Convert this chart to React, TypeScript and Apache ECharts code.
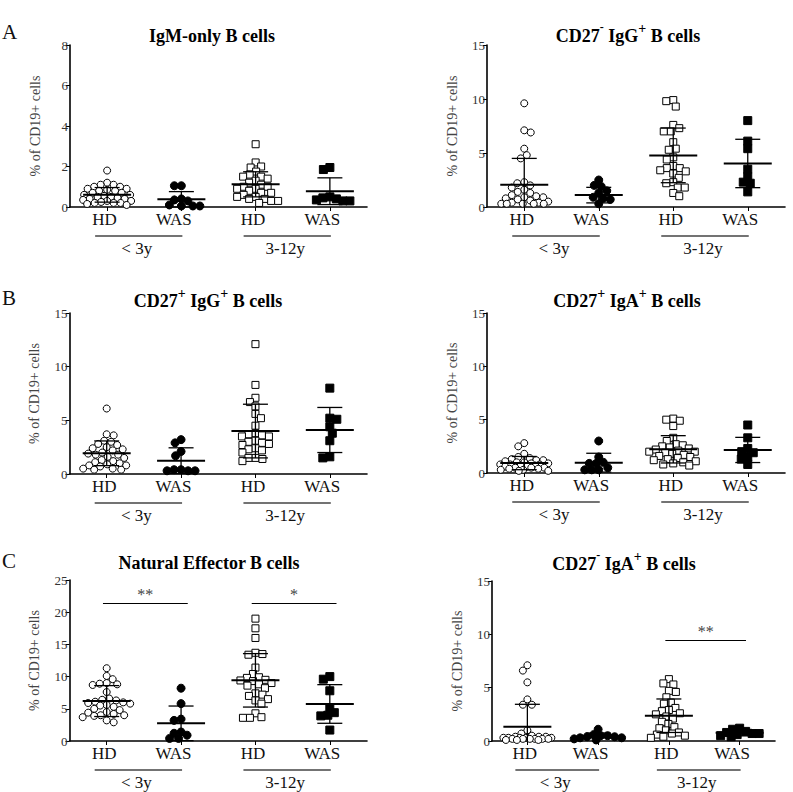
import React, { useEffect, useRef } from "react";
import * as echarts from "echarts";

const FONT = "Liberation Serif, Times New Roman, serif";

const groupLabels = ["HD", "WAS", "HD", "WAS"];
const ageLabels = ["< 3y", "3-12y"];
const yAxisTitle = "% of CD19+ cells";

// ---- IgM-only B cells ----
const igmOnlyHDlt3 = [1.8, 1.2, 1.1, 1.1, 1.0, 1.0, 0.9, 0.9, 0.85, 0.8, 0.8, 0.7, 0.7, 0.6, 0.6, 0.55, 0.5, 0.5, 0.45, 0.4, 0.4, 0.35, 0.3, 0.3, 0.25, 0.2, 0.2, 0.2, 0.15, 0.1];
const igmOnlyWASlt3 = [1.05, 1.05, 0.4, 0.35, 0.3, 0.1, 0.05, 0.05, 0.05];
const igmOnlyHD312 = [3.1, 2.2, 2.0, 1.95, 1.75, 1.6, 1.5, 1.5, 1.4, 1.3, 1.2, 1.1, 1.0, 1.0, 0.9, 0.9, 0.8, 0.7, 0.7, 0.6, 0.5, 0.5, 0.4, 0.4, 0.3, 0.3, 0.2];
const igmOnlyWAS312 = [1.95, 1.85, 0.5, 0.45, 0.4, 0.35, 0.3, 0.3];
const igmOnlyMeans = [0.6, 0.38, 1.12, 0.78];
const igmOnlySDs = [0.36, 0.38, 0.62, 0.66];

// ---- CD27- IgG+ B cells ----
const cd27nIgGHDlt3 = [9.6, 7.1, 6.9, 5.4, 4.8, 4.5, 2.3, 2.2, 2.0, 1.8, 1.6, 1.4, 1.3, 1.1, 1.0, 0.9, 0.9, 0.8, 0.7, 0.6, 0.5, 0.4, 0.4, 0.3, 0.3, 0.3, 0.3, 0.3];
const cd27nIgGWASlt3 = [2.5, 2.0, 1.9, 1.5, 1.3, 0.9, 0.8, 0.7, 0.3];
const cd27nIgGHD312 = [9.9, 9.8, 9.3, 7.6, 7.3, 7.0, 7.0, 6.0, 5.4, 5.3, 4.6, 4.4, 3.8, 3.6, 3.6, 3.4, 3.3, 3.1, 2.7, 2.3, 2.2, 1.8, 1.8, 1.3, 1.0];
const cd27nIgGWAS312 = [8.0, 6.1, 5.4, 3.5, 2.8, 2.3, 2.2, 1.4];
const cd27nIgGMeans = [2.05, 1.1, 4.78, 4.03];
const cd27nIgGSDs = [2.45, 0.72, 2.53, 2.24];

// ---- CD27+ IgG+ B cells ----
const cd27pIgGHDlt3 = [6.1, 3.7, 3.6, 3.1, 3.0, 2.8, 2.7, 2.5, 2.4, 2.3, 2.2, 2.0, 1.9, 1.8, 1.8, 1.6, 1.5, 1.3, 1.2, 1.1, 1.0, 0.9, 0.8, 0.8, 0.7, 0.5, 0.5, 0.4, 0.4];
const cd27pIgGWASlt3 = [3.2, 2.9, 2.1, 1.7, 0.4, 0.4, 0.3, 0.3, 0.3];
const cd27pIgGHD312 = [12.1, 8.3, 7.1, 6.7, 6.3, 5.6, 5.2, 4.5, 3.8, 3.7, 3.6, 3.5, 3.5, 3.1, 3.0, 2.9, 2.8, 2.7, 2.4, 2.3, 2.2, 2.0, 1.5, 1.5, 1.4, 1.2];
const cd27pIgGWAS312 = [8.0, 5.2, 5.1, 4.4, 3.8, 3.1, 1.6, 1.5];
const cd27pIgGMeans = [1.93, 1.24, 4.0, 4.1];
const cd27pIgGSDs = [1.15, 1.2, 2.5, 2.1];

// ---- CD27+ IgA+ B cells ----
const cd27pIgAHDlt3 = [2.8, 2.5, 1.8, 1.5, 1.4, 1.3, 1.2, 1.2, 1.1, 1.0, 1.0, 0.9, 0.9, 0.8, 0.8, 0.8, 0.7, 0.7, 0.6, 0.6, 0.5, 0.5, 0.5, 0.4, 0.4, 0.3, 0.3, 0.2, 0.2];
const cd27pIgAWASlt3 = [3.0, 1.5, 1.0, 0.9, 0.9, 0.5, 0.3, 0.3, 0.3];
const cd27pIgAHD312 = [5.1, 5.0, 4.9, 4.4, 3.3, 3.0, 2.7, 2.6, 2.5, 2.4, 2.3, 2.2, 2.1, 2.0, 2.0, 1.9, 1.8, 1.7, 1.6, 1.5, 1.4, 1.3, 1.2, 1.1, 1.0, 0.9, 0.8, 0.7];
const cd27pIgAWAS312 = [4.5, 3.3, 2.3, 2.0, 1.9, 1.5, 1.3, 0.8];
const cd27pIgAMeans = [0.93, 0.97, 2.22, 2.16];
const cd27pIgASDs = [0.62, 0.88, 1.28, 1.18];

// ---- Natural Effector B cells ----
const natEffHDlt3 = [11.3, 10.1, 9.6, 9.0, 8.9, 8.8, 8.7, 7.6, 6.6, 6.4, 6.3, 6.1, 6.0, 5.9, 5.8, 5.6, 5.5, 5.3, 5.0, 4.8, 4.5, 4.4, 4.2, 4.0, 4.0, 3.9, 3.7, 3.2, 2.9];
const natEffWASlt3 = [8.2, 5.8, 3.4, 3.2, 1.4, 1.2, 0.9, 0.4, 0.4];
const natEffHD312 = [19.0, 17.5, 16.0, 13.7, 13.5, 13.4, 11.4, 10.4, 9.9, 9.8, 9.5, 9.4, 9.3, 9.0, 8.8, 8.6, 8.2, 7.4, 7.2, 7.0, 6.5, 6.3, 5.8, 4.3, 3.7, 3.6, 3.6];
const natEffWAS312 = [10.0, 9.6, 7.8, 5.2, 4.4, 4.0, 3.9, 1.7];
const natEffMeans = [6.2, 2.74, 9.42, 5.75];
const natEffSDs = [2.4, 2.69, 4.15, 3.0];
const natEffSig = [
  { from: 0, to: 1, y: 21.4, label: "**" },
  { from: 2, to: 3, y: 21.4, label: "*" },
];

// ---- CD27- IgA+ B cells ----
const cd27nIgAHDlt3 = [7.1, 6.6, 5.5, 3.9, 3.4, 3.4, 1.0, 0.7, 0.5, 0.4, 0.4, 0.4, 0.3, 0.3, 0.3, 0.3, 0.3, 0.2, 0.2, 0.2, 0.2, 0.2, 0.2, 0.1, 0.1, 0.1];
const cd27nIgAWASlt3 = [1.1, 0.6, 0.5, 0.5, 0.4, 0.4, 0.3, 0.3, 0.2, 0.1];
const cd27nIgAHD312 = [5.8, 5.4, 5.3, 4.7, 4.6, 4.1, 3.6, 3.5, 3.1, 2.9, 2.8, 2.6, 2.5, 2.3, 2.1, 1.8, 1.6, 1.3, 1.2, 1.0, 0.8, 0.7, 0.6, 0.5, 0.4, 0.3];
const cd27nIgAWAS312 = [1.2, 1.1, 0.9, 0.8, 0.7, 0.7, 0.6, 0.5, 0.4];
const cd27nIgAMeans = [1.34, 0.35, 2.37, 0.78];
const cd27nIgASDs = [2.1, 0.4, 1.57, 0.3];
const cd27nIgASig = [{ from: 2, to: 3, y: 9.4, label: "**" }];

type Sig = { from: number; to: number; y: number; label: string };
type Panel = {
  title: string;
  ymax: number;
  interval: number;
  data: number[][];
  means: number[];
  sds: number[];
  sig: Sig[];
};

const panels: Panel[] = [
  { title: "{t|IgM-only B cells}", ymax: 8, interval: 2, data: [igmOnlyHDlt3, igmOnlyWASlt3, igmOnlyHD312, igmOnlyWAS312], means: igmOnlyMeans, sds: igmOnlySDs, sig: [] },
  { title: "{t|CD27}{m|-}{t| IgG}{p|+}{t| B cells}", ymax: 15, interval: 5, data: [cd27nIgGHDlt3, cd27nIgGWASlt3, cd27nIgGHD312, cd27nIgGWAS312], means: cd27nIgGMeans, sds: cd27nIgGSDs, sig: [] },
  { title: "{t|CD27}{p|+}{t| IgG}{p|+}{t| B cells}", ymax: 15, interval: 5, data: [cd27pIgGHDlt3, cd27pIgGWASlt3, cd27pIgGHD312, cd27pIgGWAS312], means: cd27pIgGMeans, sds: cd27pIgGSDs, sig: [] },
  { title: "{t|CD27}{p|+}{t| IgA}{p|+}{t| B cells}", ymax: 15, interval: 5, data: [cd27pIgAHDlt3, cd27pIgAWASlt3, cd27pIgAHD312, cd27pIgAWAS312], means: cd27pIgAMeans, sds: cd27pIgASDs, sig: [] },
  { title: "{t|Natural Effector B cells}", ymax: 25, interval: 5, data: [natEffHDlt3, natEffWASlt3, natEffHD312, natEffWAS312], means: natEffMeans, sds: natEffSDs, sig: natEffSig },
  { title: "{t|CD27}{m|-}{t| IgA}{p|+}{t| B cells}", ymax: 15, interval: 5, data: [cd27nIgAHDlt3, cd27nIgAWASlt3, cd27nIgAHD312, cd27nIgAWAS312], means: cd27nIgAMeans, sds: cd27nIgASDs, sig: cd27nIgASig },
];

const layouts = [
  { left: 70, top: 45, width: 297, height: 162, tx: 212, ty: 33, letter: "A", ly: 32 },
  { left: 487, top: 45, width: 298, height: 162, tx: 628, ty: 33, letter: "", ly: 0 },
  { left: 69.5, top: 313, width: 297.5, height: 161, tx: 208, ty: 298, letter: "B", ly: 298 },
  { left: 487, top: 313, width: 298, height: 160, tx: 627, ty: 298, letter: "", ly: 0 },
  { left: 69.5, top: 580, width: 297.5, height: 161, tx: 209, ty: 560, letter: "C", ly: 561 },
  { left: 492, top: 581, width: 283, height: 160, tx: 624, ty: 561, letter: "", ly: 0 },
];

// deterministic beeswarm layout (pixel offsets)
function swarm(values: number[], pxPerY: number, D: number, maxW: number): number[] {
  const placed: { x: number; y: number }[] = [];
  const out: number[] = [];
  values.forEach((v, i) => {
    const y = v * pxPerY;
    let best = 0;
    let bestScore = -Infinity;
    let found = false;
    for (let k = 0; k <= maxW; k += 0.5) {
      const cands = i % 2 === 0 ? [k, -k] : [-k, k];
      for (const c of cands) {
        let minD = Infinity;
        for (const p of placed) {
          const d = Math.hypot(p.x - c, p.y - y);
          if (d < minD) minD = d;
        }
        if (minD >= D) {
          best = c;
          found = true;
          break;
        }
        if (minD > bestScore) {
          bestScore = minD;
          best = c;
        }
      }
      if (found) break;
    }
    placed.push({ x: best, y });
    out.push(best);
  });
  return out;
}

export default function App() {
  const ref = useRef<HTMLDivElement>(null);
  useEffect(() => {
    document.body.style.margin = "0";
    const chart = echarts.init(ref.current!, null, { renderer: "svg" });
    const grid: any[] = [];
    const xAxis: any[] = [];
    const yAxis: any[] = [];
    const series: any[] = [];

    panels.forEach((p, i) => {
      const L = layouts[i];
      grid.push({ left: L.left, top: L.top, width: L.width, height: L.height });
      xAxis.push({
        type: "value",
        gridIndex: i,
        min: -0.5,
        max: 3.5,
        axisLine: { show: true, onZero: false, lineStyle: { color: "#000", width: 1.6 } },
        axisTick: { show: true, customValues: [0, 1, 2, 3], length: 4, lineStyle: { color: "#000", width: 1 } },
        axisLabel: {
          customValues: [0, 1, 2, 3],
          margin: 4,
          formatter: (v: number) => (groupLabels[Math.round(v)] === "HD" ? "{h|HD}" : "{w|WAS}"),
          rich: {
            h: { fontSize: 17, fontFamily: FONT, color: "#111", padding: [0, 5, 0, 0] },
            w: { fontSize: 17, fontFamily: FONT, color: "#111", padding: [0, 15, 0, 0] },
          },
        },
        splitLine: { show: false },
      });
      yAxis.push({
        type: "value",
        gridIndex: i,
        min: 0,
        max: p.ymax,
        interval: p.interval,
        axisLine: { show: true, onZero: false, lineStyle: { color: "#000", width: 1.6 } },
        axisTick: { show: true, length: 4, lineStyle: { color: "#000", width: 1 } },
        axisLabel: { fontSize: 13, fontFamily: FONT, color: "#333", margin: 2 },
        splitLine: { show: false },
        name: yAxisTitle,
        nameLocation: "middle",
        nameGap: 28,
        nameTextStyle: { fontSize: 14, fontFamily: FONT, color: "#444" },
      });
      const pxPerY = L.height / p.ymax;
      const slotPx = L.width / 4;
      p.data.forEach((vals, g) => {
        const dx = swarm(vals, pxPerY, 6.8, 24);
        const filled = g === 1 || g === 3;
        const s: any = {
          type: "scatter",
          xAxisIndex: i,
          yAxisIndex: i,
          symbol: g < 2 ? "circle" : "rect",
          symbolSize: filled ? 8 : 7,
          clip: false,
          silent: true,
          z: 2,
          itemStyle: { color: filled ? "#000" : "#fff", borderColor: "#000", borderWidth: 1, opacity: 1 },
          data: vals.map((v, j) => [g + dx[j] / slotPx, v]),
        };
        if (g === 0 && p.sig.length) {
          s.markLine = {
            silent: true,
            symbol: ["none", "none"],
            lineStyle: { color: "#000", width: 1.2, type: "solid" },
            label: {
              show: true,
              position: "middle",
              distance: 1,
              fontSize: 16,
              fontFamily: FONT,
              color: "#444",
              formatter: (prm: any) => prm.name,
            },
            data: p.sig.map((sg) => [
              { name: sg.label, coord: [sg.from - 0.05, sg.y] },
              { coord: [sg.to + 0.09, sg.y] },
            ]),
          };
        }
        series.push(s);
      });
      series.push({
        type: "custom",
        xAxisIndex: i,
        yAxisIndex: i,
        z: 5,
        silent: true,
        clip: false,
        encode: { x: 0, y: [1, 2, 3] },
        data: p.means.map((m, g) => [g, m, m - p.sds[g], m + p.sds[g]]),
        renderItem: (params: any, api: any) => {
          const x = api.value(0);
          const m = api.value(1);
          const lo = api.value(2);
          const hi = api.value(3);
          const pm = api.coord([x, m]);
          const pl = api.coord([x, Math.max(lo, 0)]);
          const ph = api.coord([x, hi]);
          const st = { stroke: "#000", lineWidth: 1.3 };
          const children: any[] = [
            { type: "line", shape: { x1: pm[0], y1: ph[1], x2: pm[0], y2: pl[1] }, style: st },
            { type: "line", shape: { x1: pm[0] - 12.5, y1: ph[1], x2: pm[0] + 12.5, y2: ph[1] }, style: st },
            { type: "line", shape: { x1: pm[0] - 24, y1: pm[1], x2: pm[0] + 24, y2: pm[1] }, style: { stroke: "#000", lineWidth: 2 } },
          ];
          if (lo >= 0) {
            children.push({ type: "line", shape: { x1: pm[0] - 12.5, y1: pl[1], x2: pm[0] + 12.5, y2: pl[1] }, style: st });
          }
          return { type: "group", children };
        },
      });
    });

    chart.setOption({ animation: false, grid, xAxis, yAxis, series });

    const graphics: any[] = [];
    panels.forEach((p, i) => {
      const L = layouts[i];
      graphics.push({
        type: "text",
        x: L.tx,
        y: L.ty,
        style: {
          text: p.title,
          align: "center",
          verticalAlign: "middle",
          rich: {
            t: { fontSize: 18, fontWeight: "bold", fontFamily: FONT, color: "#111", lineHeight: 24, verticalAlign: "bottom" },
            p: { fontSize: 14, fontWeight: "bold", fontFamily: FONT, color: "#111", lineHeight: 14, verticalAlign: "top" },
            m: { fontSize: 12, fontWeight: "bold", fontFamily: FONT, color: "#111", lineHeight: 12, verticalAlign: "top" },
          },
        },
      });
      if (L.letter) {
        graphics.push({
          type: "text",
          x: 2,
          y: L.ly,
          style: { text: L.letter, fontSize: 21, fontFamily: FONT, fill: "#111", align: "left", verticalAlign: "middle" },
        });
      }
      for (let a = 0; a < 2; a++) {
        const pHD = chart.convertToPixel({ gridIndex: i } as any, [a * 2, 0]) as number[];
        const pWAS = chart.convertToPixel({ gridIndex: i } as any, [a * 2 + 1, 0]) as number[];
        const x1 = pHD[0] - 12;
        const x2 = pWAS[0] + 1;
        const yLine = pHD[1] + 29;
        graphics.push({
          type: "line",
          shape: { x1, y1: yLine, x2, y2: yLine },
          style: { stroke: "#444", lineWidth: 1.3 },
        });
        graphics.push({
          type: "text",
          x: (x1 + x2) / 2 - 2,
          y: pHD[1] + 41,
          style: { text: ageLabels[a], fontSize: 17, fontFamily: FONT, fill: "#111", align: "center", verticalAlign: "middle" },
        });
      }
    });
    chart.setOption({ graphic: graphics });

    return () => chart.dispose();
  }, []);
  return <div ref={ref} style={{ width: 793, height: 792 }} />;
}
